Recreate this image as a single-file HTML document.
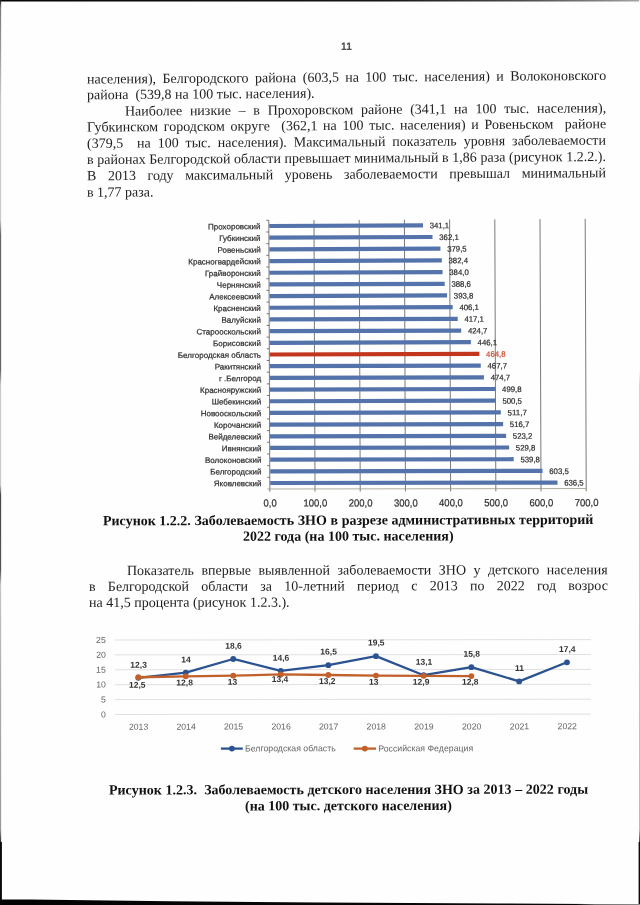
<!DOCTYPE html>
<html lang="ru">
<head>
<meta charset="utf-8">
<title>11</title>
<style>
html,body{margin:0;padding:0;}
body{width:640px;height:905px;position:relative;overflow:hidden;background:#fefefe;font-family:"Liberation Serif", serif;}
.ln{position:absolute;white-space:pre;font-size:14px;line-height:16px;height:16px;color:#1e1e1e;font-family:"Liberation Serif", serif;transform-origin:0 12px;}
.ln.b{font-weight:bold;color:#111;}
.pn{position:absolute;left:340.6px;top:40px;font-family:"Liberation Sans", sans-serif;font-size:10.3px;line-height:12px;letter-spacing:0.4px;color:#2a2a2a;-webkit-text-stroke:0.25px #2a2a2a;transform:translateY(0.8px) rotate(-0.3deg);transform-origin:0 10px;}
svg{position:absolute;left:0;top:0;}
svg text{font-family:"Liberation Sans", sans-serif;}
#chart1 text{stroke:#2e2e2e;stroke-width:0.22px;}
#chart1 text.r{stroke:#cf4a30;}
</style>
</head>
<body>
<div class="pn">11</div>
<div class="ln" style="left:87.00px;top:71px;transform:translateY(0.60px) rotate(-0.410deg);word-spacing:2.889px;">населения), Белгородского района (603,5 на 100 тыс. населения) и Волоконовского</div>
<div class="ln" style="left:87.00px;top:87px;transform:translateY(0.30px) rotate(-0.398deg);">района  (539,8 на 100 тыс. населения).</div>
<div class="ln" style="left:125.00px;top:103px;transform:translateY(0.60px) rotate(-0.385deg);word-spacing:4.212px;">Наиболее низкие – в Прохоровском районе (341,1 на 100 тыс. населения),</div>
<div class="ln" style="left:87.00px;top:119px;transform:translateY(0.60px) rotate(-0.373deg);word-spacing:2.172px;">Губкинском городском округе  (362,1 на 100 тыс. населения) и Ровеньском  районе</div>
<div class="ln" style="left:87.30px;top:135px;transform:translateY(0.90px) rotate(-0.361deg);word-spacing:3.425px;">(379,5  на 100 тыс. населения). Максимальный показатель уровня заболеваемости</div>
<div class="ln" style="left:87.30px;top:152px;transform:translateY(0.10px) rotate(-0.348deg);word-spacing:0.146px;">в районах Белгородской области превышает минимальный в 1,86 раза (рисунок 1.2.2.).</div>
<div class="ln" style="left:87.30px;top:168px;transform:translateY(0.30px) rotate(-0.336deg);word-spacing:8.075px;">В 2013 году максимальный уровень заболеваемости превышал минимальный</div>
<div class="ln" style="left:87.30px;top:184px;transform:translateY(0.75px) rotate(-0.323deg);">в 1,77 раза.</div>
<div class="ln b" style="left:103.30px;top:513px;transform:translateY(0.35px) rotate(-0.160deg);word-spacing:0.082px;">Рисунок 1.2.2. Заболеваемость ЗНО в разрезе административных территорий</div>
<div class="ln b" style="left:242.50px;top:528px;transform:translateY(0.80px) rotate(-0.103deg);">2022 года (на 100 тыс. населения)</div>
<div class="ln" style="left:127.00px;top:563px;transform:translateY(0.00px) rotate(-0.103deg);word-spacing:3.975px;">Показатель впервые выявленной заболеваемости ЗНО у детского населения</div>
<div class="ln" style="left:88.80px;top:578px;transform:translateY(0.95px) rotate(-0.103deg);word-spacing:8.754px;">в Белгородской области за 10-летний период с 2013 по 2022 год возрос</div>
<div class="ln" style="left:89.00px;top:595px;transform:translateY(0.00px) rotate(-0.103deg);">на 41,5 процента (рисунок 1.2.3.).</div>
<div class="ln b" style="left:109.00px;top:782px;transform:translateY(0.50px) rotate(-0.103deg);word-spacing:0.118px;">Рисунок 1.2.3.  Заболеваемость детского населения ЗНО за 2013 – 2022 годы</div>
<div class="ln b" style="left:245.20px;top:798px;transform:translateY(0.40px) rotate(-0.103deg);">(на 100 тыс. детского населения)</div>
<svg width="640" height="905" viewBox="0 0 640 905">
<g id="edges">
<defs><linearGradient id="gl" x1="0" y1="0" x2="0" y2="1"><stop offset="0.0000" stop-color="#1c1c1c"/><stop offset="0.0088" stop-color="#7a7a7a"/><stop offset="0.0552" stop-color="#999"/><stop offset="0.1105" stop-color="#cacaca"/><stop offset="0.2431" stop-color="#cacaca"/><stop offset="0.2597" stop-color="#666"/><stop offset="0.4088" stop-color="#666"/><stop offset="0.4254" stop-color="#cacaca"/><stop offset="0.5359" stop-color="#cacaca"/><stop offset="0.5470" stop-color="#484848"/><stop offset="0.6298" stop-color="#555"/><stop offset="0.6464" stop-color="#c6c6c6"/><stop offset="0.7514" stop-color="#adadad"/><stop offset="0.9171" stop-color="#999"/><stop offset="0.9337" stop-color="#111"/><stop offset="1.0000" stop-color="#000"/></linearGradient><linearGradient id="gr" x1="0" y1="0" x2="0" y2="1"><stop offset="0.0000" stop-color="#ffffff"/><stop offset="0.4088" stop-color="#fdfdfd"/><stop offset="0.4254" stop-color="#c9c9c9"/><stop offset="0.6851" stop-color="#bdbdbd"/><stop offset="0.9171" stop-color="#a8a8a8"/><stop offset="0.9304" stop-color="#111"/><stop offset="1.0000" stop-color="#000"/></linearGradient><linearGradient id="gt" x1="0" y1="0" x2="1" y2="0"><stop offset="0.0000" stop-color="#060606"/><stop offset="0.5938" stop-color="#161616"/><stop offset="0.8125" stop-color="#4a4a4a"/><stop offset="0.9375" stop-color="#808080"/><stop offset="1.0000" stop-color="#a6a6a6"/></linearGradient><linearGradient id="gb" x1="0" y1="0" x2="1" y2="0"><stop offset="0.0000" stop-color="#030303"/><stop offset="0.9000" stop-color="#080808"/><stop offset="0.9300" stop-color="#707070"/><stop offset="1.0000" stop-color="#8a8a8a"/></linearGradient></defs>
<rect x="0" y="0" width="640" height="1.5" fill="url(#gt)"/>
<rect x="0" y="0" width="1.15" height="905" fill="url(#gl)"/>
<rect x="639.2" y="0" width="0.8" height="905" fill="url(#gr)"/>
<rect x="0" y="842" width="1.9" height="63" fill="#0a0a0a"/>
<rect x="638.6" y="842" width="1.4" height="63" fill="#0c0c0c"/>
<polygon points="0,899.5 30,899.6 170,901.2 320,902.5 500,903.4 590,903.9 640,904.0 640,905 0,905" fill="url(#gb)"/>
</g>
<g id="chart1">
<line x1="268.80" y1="220.30" x2="269.83" y2="491.70" stroke="#585858" stroke-width="0.8"/>
<line x1="314.00" y1="220.11" x2="315.03" y2="491.63" stroke="#585858" stroke-width="0.8"/>
<line x1="359.20" y1="219.91" x2="360.23" y2="491.57" stroke="#585858" stroke-width="0.8"/>
<line x1="404.40" y1="219.72" x2="405.43" y2="491.50" stroke="#585858" stroke-width="0.8"/>
<line x1="449.60" y1="219.53" x2="450.63" y2="491.44" stroke="#585858" stroke-width="0.8"/>
<line x1="494.80" y1="219.34" x2="495.83" y2="491.37" stroke="#585858" stroke-width="0.8"/>
<line x1="540.00" y1="219.14" x2="541.03" y2="491.31" stroke="#585858" stroke-width="0.8"/>
<line x1="585.20" y1="218.95" x2="586.23" y2="491.24" stroke="#585858" stroke-width="0.8"/>
<line x1="267.22" y1="489.00" x2="586.22" y2="488.54" stroke="#9a9589" stroke-width="0.8"/>
<line x1="266.20" y1="220.31" x2="268.80" y2="220.30" stroke="#585858" stroke-width="0.8"/>
<line x1="266.24" y1="231.99" x2="268.84" y2="231.98" stroke="#585858" stroke-width="0.8"/>
<line x1="266.29" y1="243.68" x2="268.89" y2="243.67" stroke="#585858" stroke-width="0.8"/>
<line x1="266.33" y1="255.36" x2="268.93" y2="255.35" stroke="#585858" stroke-width="0.8"/>
<line x1="266.38" y1="267.04" x2="268.98" y2="267.03" stroke="#585858" stroke-width="0.8"/>
<line x1="266.42" y1="278.72" x2="269.02" y2="278.71" stroke="#585858" stroke-width="0.8"/>
<line x1="266.47" y1="290.40" x2="269.07" y2="290.40" stroke="#585858" stroke-width="0.8"/>
<line x1="266.51" y1="302.09" x2="269.11" y2="302.08" stroke="#585858" stroke-width="0.8"/>
<line x1="266.56" y1="313.77" x2="269.16" y2="313.76" stroke="#585858" stroke-width="0.8"/>
<line x1="266.60" y1="325.45" x2="269.20" y2="325.44" stroke="#585858" stroke-width="0.8"/>
<line x1="266.64" y1="337.13" x2="269.24" y2="337.13" stroke="#585858" stroke-width="0.8"/>
<line x1="266.69" y1="348.82" x2="269.29" y2="348.81" stroke="#585858" stroke-width="0.8"/>
<line x1="266.73" y1="360.50" x2="269.33" y2="360.49" stroke="#585858" stroke-width="0.8"/>
<line x1="266.78" y1="372.18" x2="269.38" y2="372.17" stroke="#585858" stroke-width="0.8"/>
<line x1="266.82" y1="383.86" x2="269.42" y2="383.86" stroke="#585858" stroke-width="0.8"/>
<line x1="266.87" y1="395.55" x2="269.47" y2="395.54" stroke="#585858" stroke-width="0.8"/>
<line x1="266.91" y1="407.23" x2="269.51" y2="407.22" stroke="#585858" stroke-width="0.8"/>
<line x1="266.95" y1="418.91" x2="269.55" y2="418.90" stroke="#585858" stroke-width="0.8"/>
<line x1="267.00" y1="430.59" x2="269.60" y2="430.59" stroke="#585858" stroke-width="0.8"/>
<line x1="267.04" y1="442.27" x2="269.64" y2="442.27" stroke="#585858" stroke-width="0.8"/>
<line x1="267.09" y1="453.96" x2="269.69" y2="453.95" stroke="#585858" stroke-width="0.8"/>
<line x1="267.13" y1="465.64" x2="269.73" y2="465.63" stroke="#585858" stroke-width="0.8"/>
<line x1="267.18" y1="477.32" x2="269.78" y2="477.32" stroke="#585858" stroke-width="0.8"/>
<polygon points="269.21,223.90 422.99,223.25 423.01,227.46 269.23,228.10" fill="#5573ab"/>
<text x="429.71" y="228.33" transform="rotate(-0.241 429.71 228.33)" fill="#2e2e2e" font-size="8" textLength="19.5" lengthAdjust="spacingAndGlyphs">341,1</text>
<text x="260.53" y="229.23" transform="rotate(-0.241 260.53 229.23)" text-anchor="end" fill="#2e2e2e" font-size="8.02">Прохоровский</text>
<polygon points="269.26,235.58 432.53,234.91 432.54,239.12 269.27,239.78" fill="#5573ab"/>
<text x="439.25" y="239.99" transform="rotate(-0.234 439.25 239.99)" fill="#2e2e2e" font-size="8" textLength="19.5" lengthAdjust="spacingAndGlyphs">362,1</text>
<text x="260.58" y="240.92" transform="rotate(-0.234 260.58 240.92)" text-anchor="end" fill="#2e2e2e" font-size="8.02">Губкинский</text>
<polygon points="269.30,247.26 440.44,246.58 440.45,250.79 269.32,251.46" fill="#5573ab"/>
<text x="447.16" y="251.66" transform="rotate(-0.227 447.16 251.66)" fill="#2e2e2e" font-size="8" textLength="19.5" lengthAdjust="spacingAndGlyphs">379,5</text>
<text x="260.62" y="252.60" transform="rotate(-0.227 260.62 252.60)" text-anchor="end" fill="#2e2e2e" font-size="8.02">Ровеньский</text>
<polygon points="269.35,258.94 441.79,258.28 441.81,262.49 269.36,263.14" fill="#5573ab"/>
<text x="448.51" y="263.36" transform="rotate(-0.219 448.51 263.36)" fill="#2e2e2e" font-size="8" textLength="19.5" lengthAdjust="spacingAndGlyphs">382,4</text>
<text x="260.67" y="264.28" transform="rotate(-0.219 260.67 264.28)" text-anchor="end" fill="#2e2e2e" font-size="8.02">Красногвардейский</text>
<polygon points="269.39,270.63 442.56,269.98 442.58,274.19 269.41,274.83" fill="#5573ab"/>
<text x="449.28" y="275.07" transform="rotate(-0.212 449.28 275.07)" fill="#2e2e2e" font-size="8" textLength="19.5" lengthAdjust="spacingAndGlyphs">384,0</text>
<text x="260.71" y="275.96" transform="rotate(-0.212 260.71 275.96)" text-anchor="end" fill="#2e2e2e" font-size="8.02">Грайворонский</text>
<polygon points="269.44,282.31 444.68,281.68 444.70,285.89 269.45,286.51" fill="#5573ab"/>
<text x="451.40" y="286.76" transform="rotate(-0.205 451.40 286.76)" fill="#2e2e2e" font-size="8" textLength="19.5" lengthAdjust="spacingAndGlyphs">388,6</text>
<text x="260.76" y="287.64" transform="rotate(-0.205 260.76 287.64)" text-anchor="end" fill="#2e2e2e" font-size="8.02">Чернянский</text>
<polygon points="269.48,293.99 447.08,293.37 447.09,297.58 269.50,298.19" fill="#5573ab"/>
<text x="453.80" y="298.46" transform="rotate(-0.198 453.80 298.46)" fill="#2e2e2e" font-size="8" textLength="19.5" lengthAdjust="spacingAndGlyphs">393,8</text>
<text x="260.80" y="299.32" transform="rotate(-0.198 260.80 299.32)" text-anchor="end" fill="#2e2e2e" font-size="8.02">Алексеевский</text>
<polygon points="269.52,305.67 452.68,305.06 452.70,309.27 269.54,309.87" fill="#5573ab"/>
<text x="459.40" y="310.15" transform="rotate(-0.191 459.40 310.15)" fill="#2e2e2e" font-size="8" textLength="19.5" lengthAdjust="spacingAndGlyphs">406,1</text>
<text x="260.84" y="311.00" transform="rotate(-0.191 260.84 311.00)" text-anchor="end" fill="#2e2e2e" font-size="8.02">Красненский</text>
<polygon points="269.57,317.35 457.70,316.75 457.71,320.96 269.58,321.55" fill="#5573ab"/>
<text x="464.42" y="321.84" transform="rotate(-0.184 464.42 321.84)" fill="#2e2e2e" font-size="8" textLength="19.5" lengthAdjust="spacingAndGlyphs">417,1</text>
<text x="260.89" y="322.68" transform="rotate(-0.184 260.89 322.68)" text-anchor="end" fill="#2e2e2e" font-size="8.02">Валуйский</text>
<polygon points="269.61,329.04 461.18,328.44 461.19,332.65 269.63,333.24" fill="#5573ab"/>
<text x="467.90" y="333.53" transform="rotate(-0.177 467.90 333.53)" fill="#2e2e2e" font-size="8" textLength="19.5" lengthAdjust="spacingAndGlyphs">424,7</text>
<text x="260.93" y="334.36" transform="rotate(-0.177 260.93 334.36)" text-anchor="end" fill="#2e2e2e" font-size="8.02">Старооскольский</text>
<polygon points="269.66,340.72 470.89,340.12 470.91,344.33 269.67,344.92" fill="#5573ab"/>
<text x="477.61" y="345.21" transform="rotate(-0.169 477.61 345.21)" fill="#2e2e2e" font-size="8" textLength="19.5" lengthAdjust="spacingAndGlyphs">446,1</text>
<text x="260.98" y="346.04" transform="rotate(-0.169 260.98 346.04)" text-anchor="end" fill="#2e2e2e" font-size="8.02">Борисовский</text>
<polygon points="269.70,352.40 479.39,351.80 479.41,356.01 269.72,356.60" fill="#c3361e"/>
<text x="486.11" y="356.89" transform="rotate(-0.162 486.11 356.89)" fill="#cf4a30" class="r" font-size="8" textLength="19.5" lengthAdjust="spacingAndGlyphs">464,8</text>
<text x="261.02" y="357.73" transform="rotate(-0.162 261.02 357.73)" text-anchor="end" fill="#2e2e2e" font-size="8.02">Белгородская область</text>
<polygon points="269.75,364.08 480.75,363.51 480.76,367.72 269.76,368.28" fill="#5573ab"/>
<text x="487.47" y="368.60" transform="rotate(-0.155 487.47 368.60)" fill="#2e2e2e" font-size="8" textLength="19.5" lengthAdjust="spacingAndGlyphs">467,7</text>
<text x="261.07" y="369.41" transform="rotate(-0.155 261.07 369.41)" text-anchor="end" fill="#2e2e2e" font-size="8.02">Ракитянский</text>
<polygon points="269.79,375.76 483.96,375.21 483.97,379.42 269.81,379.96" fill="#5573ab"/>
<text x="490.67" y="380.30" transform="rotate(-0.148 490.67 380.30)" fill="#2e2e2e" font-size="8" textLength="19.5" lengthAdjust="spacingAndGlyphs">474,7</text>
<text x="261.11" y="381.09" transform="rotate(-0.148 261.11 381.09)" text-anchor="end" fill="#2e2e2e" font-size="8.02">г .Белгород</text>
<polygon points="269.84,387.45 495.34,386.89 495.36,391.10 269.85,391.65" fill="#5573ab"/>
<text x="502.06" y="391.98" transform="rotate(-0.141 502.06 391.98)" fill="#2e2e2e" font-size="8" textLength="19.5" lengthAdjust="spacingAndGlyphs">499,8</text>
<text x="261.16" y="392.77" transform="rotate(-0.141 261.16 392.77)" text-anchor="end" fill="#2e2e2e" font-size="8.02">Краснояружский</text>
<polygon points="269.88,399.13 495.71,398.60 495.72,402.81 269.90,403.33" fill="#5573ab"/>
<text x="502.42" y="403.69" transform="rotate(-0.134 502.42 403.69)" fill="#2e2e2e" font-size="8" textLength="19.5" lengthAdjust="spacingAndGlyphs">500,5</text>
<text x="261.20" y="404.45" transform="rotate(-0.134 261.20 404.45)" text-anchor="end" fill="#2e2e2e" font-size="8.02">Шебекинский</text>
<polygon points="269.92,410.81 500.81,410.30 500.83,414.51 269.94,415.01" fill="#5573ab"/>
<text x="507.53" y="415.39" transform="rotate(-0.127 507.53 415.39)" fill="#2e2e2e" font-size="8" textLength="19.5" lengthAdjust="spacingAndGlyphs">511,7</text>
<text x="261.24" y="416.13" transform="rotate(-0.127 261.24 416.13)" text-anchor="end" fill="#2e2e2e" font-size="8.02">Новооскольский</text>
<polygon points="269.97,422.49 503.12,422.00 503.13,426.21 269.98,426.69" fill="#5573ab"/>
<text x="509.84" y="427.10" transform="rotate(-0.119 509.84 427.10)" fill="#2e2e2e" font-size="8" textLength="19.5" lengthAdjust="spacingAndGlyphs">516,7</text>
<text x="261.29" y="427.81" transform="rotate(-0.119 261.29 427.81)" text-anchor="end" fill="#2e2e2e" font-size="8.02">Корочанский</text>
<polygon points="270.01,434.18 506.10,433.71 506.12,437.92 270.03,438.38" fill="#5573ab"/>
<text x="512.82" y="438.81" transform="rotate(-0.112 512.82 438.81)" fill="#2e2e2e" font-size="8" textLength="19.5" lengthAdjust="spacingAndGlyphs">523,2</text>
<text x="261.33" y="439.49" transform="rotate(-0.112 261.33 439.49)" text-anchor="end" fill="#2e2e2e" font-size="8.02">Вейделевский</text>
<polygon points="270.06,445.86 509.13,445.41 509.14,449.62 270.07,450.06" fill="#5573ab"/>
<text x="515.85" y="450.51" transform="rotate(-0.105 515.85 450.51)" fill="#2e2e2e" font-size="8" textLength="19.5" lengthAdjust="spacingAndGlyphs">529,8</text>
<text x="261.38" y="451.17" transform="rotate(-0.105 261.38 451.17)" text-anchor="end" fill="#2e2e2e" font-size="8.02">Ивнянский</text>
<polygon points="270.10,457.54 513.69,457.12 513.71,461.33 270.12,461.74" fill="#5573ab"/>
<text x="520.41" y="462.22" transform="rotate(-0.098 520.41 462.22)" fill="#2e2e2e" font-size="8" textLength="19.5" lengthAdjust="spacingAndGlyphs">539,8</text>
<text x="261.42" y="462.85" transform="rotate(-0.098 261.42 462.85)" text-anchor="end" fill="#2e2e2e" font-size="8.02">Волоконовский</text>
<polygon points="270.15,469.22 542.53,468.78 542.54,473.03 270.16,473.42" fill="#5573ab"/>
<text x="549.25" y="473.92" transform="rotate(-0.083 549.25 473.92)" fill="#2e2e2e" font-size="8" textLength="19.5" lengthAdjust="spacingAndGlyphs">603,5</text>
<text x="261.47" y="474.53" transform="rotate(-0.083 261.47 474.53)" text-anchor="end" fill="#2e2e2e" font-size="8.02">Белгородский</text>
<polygon points="270.19,480.90 557.49,480.49 557.50,484.69 270.21,485.10" fill="#5573ab"/>
<text x="564.21" y="485.58" transform="rotate(-0.083 564.21 485.58)" fill="#2e2e2e" font-size="8" textLength="19.5" lengthAdjust="spacingAndGlyphs">636,5</text>
<text x="261.51" y="486.22" transform="rotate(-0.083 261.51 486.22)" text-anchor="end" fill="#2e2e2e" font-size="8.02">Яковлевский</text>
<text x="270.19" y="506.60" transform="rotate(-0.100 270.19 506.60)" text-anchor="middle" fill="#2e2e2e" font-size="10.3" textLength="13.2" lengthAdjust="spacingAndGlyphs">0,0</text>
<text x="315.39" y="506.53" transform="rotate(-0.100 315.39 506.53)" text-anchor="middle" fill="#2e2e2e" font-size="10.3" textLength="23.8" lengthAdjust="spacingAndGlyphs">100,0</text>
<text x="360.59" y="506.47" transform="rotate(-0.100 360.59 506.47)" text-anchor="middle" fill="#2e2e2e" font-size="10.3" textLength="23.8" lengthAdjust="spacingAndGlyphs">200,0</text>
<text x="405.79" y="506.40" transform="rotate(-0.100 405.79 506.40)" text-anchor="middle" fill="#2e2e2e" font-size="10.3" textLength="23.8" lengthAdjust="spacingAndGlyphs">300,0</text>
<text x="450.99" y="506.34" transform="rotate(-0.100 450.99 506.34)" text-anchor="middle" fill="#2e2e2e" font-size="10.3" textLength="23.8" lengthAdjust="spacingAndGlyphs">400,0</text>
<text x="496.19" y="506.27" transform="rotate(-0.100 496.19 506.27)" text-anchor="middle" fill="#2e2e2e" font-size="10.3" textLength="23.8" lengthAdjust="spacingAndGlyphs">500,0</text>
<text x="541.39" y="506.21" transform="rotate(-0.100 541.39 506.21)" text-anchor="middle" fill="#2e2e2e" font-size="10.3" textLength="23.8" lengthAdjust="spacingAndGlyphs">600,0</text>
<text x="586.59" y="506.14" transform="rotate(-0.100 586.59 506.14)" text-anchor="middle" fill="#2e2e2e" font-size="10.3" textLength="23.8" lengthAdjust="spacingAndGlyphs">700,0</text>
</g>
<g id="chart2">
<line x1="115.00" y1="714.50" x2="590.80" y2="714.12" stroke="#d4d4d4" stroke-width="0.7"/>
<text x="105.80" y="717.40" transform="rotate(-0.060 105.80 717.40)" text-anchor="end" fill="#666666" font-size="8.7">0</text>
<line x1="115.00" y1="699.60" x2="590.80" y2="699.22" stroke="#d4d4d4" stroke-width="0.7"/>
<text x="105.80" y="702.50" transform="rotate(-0.060 105.80 702.50)" text-anchor="end" fill="#666666" font-size="8.7">5</text>
<line x1="115.00" y1="684.70" x2="590.80" y2="684.32" stroke="#d4d4d4" stroke-width="0.7"/>
<text x="105.80" y="687.60" transform="rotate(-0.060 105.80 687.60)" text-anchor="end" fill="#666666" font-size="8.7">10</text>
<line x1="115.00" y1="669.80" x2="590.80" y2="669.42" stroke="#d4d4d4" stroke-width="0.7"/>
<text x="105.80" y="672.70" transform="rotate(-0.060 105.80 672.70)" text-anchor="end" fill="#666666" font-size="8.7">15</text>
<line x1="115.00" y1="654.90" x2="590.80" y2="654.52" stroke="#d4d4d4" stroke-width="0.7"/>
<text x="105.80" y="657.80" transform="rotate(-0.060 105.80 657.80)" text-anchor="end" fill="#666666" font-size="8.7">20</text>
<line x1="115.00" y1="640.00" x2="590.80" y2="639.62" stroke="#d4d4d4" stroke-width="0.7"/>
<text x="105.80" y="642.90" transform="rotate(-0.060 105.80 642.90)" text-anchor="end" fill="#666666" font-size="8.7">25</text>
<text x="138.60" y="729.68" transform="rotate(-0.060 138.60 729.68)" text-anchor="middle" fill="#666666" font-size="8.7">2013</text>
<text x="186.06" y="729.64" transform="rotate(-0.060 186.06 729.64)" text-anchor="middle" fill="#666666" font-size="8.7">2014</text>
<text x="233.54" y="729.61" transform="rotate(-0.060 233.54 729.61)" text-anchor="middle" fill="#666666" font-size="8.7">2015</text>
<text x="281.06" y="729.57" transform="rotate(-0.060 281.06 729.57)" text-anchor="middle" fill="#666666" font-size="8.7">2016</text>
<text x="328.63" y="729.53" transform="rotate(-0.060 328.63 729.53)" text-anchor="middle" fill="#666666" font-size="8.7">2017</text>
<text x="376.26" y="729.49" transform="rotate(-0.060 376.26 729.49)" text-anchor="middle" fill="#666666" font-size="8.7">2018</text>
<text x="423.95" y="729.45" transform="rotate(-0.060 423.95 729.45)" text-anchor="middle" fill="#666666" font-size="8.7">2019</text>
<text x="471.69" y="729.41" transform="rotate(-0.060 471.69 729.41)" text-anchor="middle" fill="#666666" font-size="8.7">2020</text>
<text x="519.47" y="729.38" transform="rotate(-0.060 519.47 729.38)" text-anchor="middle" fill="#666666" font-size="8.7">2021</text>
<text x="567.27" y="729.34" transform="rotate(-0.060 567.27 729.34)" text-anchor="middle" fill="#666666" font-size="8.7">2022</text>
<polyline points="138.30,677.83 185.76,672.72 233.24,658.98 280.76,670.86 328.33,665.16 375.96,656.18 423.65,675.22 471.39,667.13 519.17,681.40 566.97,662.29" fill="none" stroke="#2b5291" stroke-width="2.3" stroke-linejoin="round"/>
<circle cx="138.30" cy="677.83" r="2.9" fill="#2b5291"/>
<circle cx="185.76" cy="672.72" r="2.9" fill="#2b5291"/>
<circle cx="233.24" cy="658.98" r="2.9" fill="#2b5291"/>
<circle cx="280.76" cy="670.86" r="2.9" fill="#2b5291"/>
<circle cx="328.33" cy="665.16" r="2.9" fill="#2b5291"/>
<circle cx="375.96" cy="656.18" r="2.9" fill="#2b5291"/>
<circle cx="423.65" cy="675.22" r="2.9" fill="#2b5291"/>
<circle cx="471.39" cy="667.13" r="2.9" fill="#2b5291"/>
<circle cx="519.17" cy="681.40" r="2.9" fill="#2b5291"/>
<circle cx="566.97" cy="662.29" r="2.9" fill="#2b5291"/>
<polyline points="138.30,677.23 185.76,676.30 233.24,675.67 280.76,674.44 328.33,674.99 375.96,675.55 423.65,675.81 471.39,676.07" fill="none" stroke="#c2602b" stroke-width="2.3" stroke-linejoin="round"/>
<circle cx="138.30" cy="677.23" r="2.9" fill="#c2602b"/>
<circle cx="185.76" cy="676.30" r="2.9" fill="#c2602b"/>
<circle cx="233.24" cy="675.67" r="2.9" fill="#c2602b"/>
<circle cx="280.76" cy="674.44" r="2.9" fill="#c2602b"/>
<circle cx="328.33" cy="674.99" r="2.9" fill="#c2602b"/>
<circle cx="375.96" cy="675.55" r="2.9" fill="#c2602b"/>
<circle cx="423.65" cy="675.81" r="2.9" fill="#c2602b"/>
<circle cx="471.39" cy="676.07" r="2.9" fill="#c2602b"/>
<text x="138.60" y="667.80" transform="rotate(-0.060 138.60 667.80)" text-anchor="middle" fill="#333" font-size="8.5" font-weight="bold">12,3</text>
<text x="186.06" y="662.40" transform="rotate(-0.060 186.06 662.40)" text-anchor="middle" fill="#333" font-size="8.5" font-weight="bold">14</text>
<text x="233.54" y="648.70" transform="rotate(-0.060 233.54 648.70)" text-anchor="middle" fill="#333" font-size="8.5" font-weight="bold">18,6</text>
<text x="281.06" y="660.80" transform="rotate(-0.060 281.06 660.80)" text-anchor="middle" fill="#333" font-size="8.5" font-weight="bold">14,6</text>
<text x="328.63" y="654.50" transform="rotate(-0.060 328.63 654.50)" text-anchor="middle" fill="#333" font-size="8.5" font-weight="bold">16,5</text>
<text x="376.26" y="645.60" transform="rotate(-0.060 376.26 645.60)" text-anchor="middle" fill="#333" font-size="8.5" font-weight="bold">19,5</text>
<text x="423.95" y="664.70" transform="rotate(-0.060 423.95 664.70)" text-anchor="middle" fill="#333" font-size="8.5" font-weight="bold">13,1</text>
<text x="471.69" y="656.65" transform="rotate(-0.060 471.69 656.65)" text-anchor="middle" fill="#333" font-size="8.5" font-weight="bold">15,8</text>
<text x="519.47" y="670.90" transform="rotate(-0.060 519.47 670.90)" text-anchor="middle" fill="#333" font-size="8.5" font-weight="bold">11</text>
<text x="567.27" y="651.90" transform="rotate(-0.060 567.27 651.90)" text-anchor="middle" fill="#333" font-size="8.5" font-weight="bold">17,4</text>
<text x="137.30" y="687.70" transform="rotate(-0.060 137.30 687.70)" text-anchor="middle" fill="#333" font-size="8.5" font-weight="bold">12,5</text>
<text x="184.60" y="685.50" transform="rotate(-0.060 184.60 685.50)" text-anchor="middle" fill="#333" font-size="8.5" font-weight="bold">12,8</text>
<text x="232.50" y="684.80" transform="rotate(-0.060 232.50 684.80)" text-anchor="middle" fill="#333" font-size="8.5" font-weight="bold">13</text>
<text x="280.00" y="681.90" transform="rotate(-0.060 280.00 681.90)" text-anchor="middle" fill="#333" font-size="8.5" font-weight="bold">13,4</text>
<text x="327.20" y="684.10" transform="rotate(-0.060 327.20 684.10)" text-anchor="middle" fill="#333" font-size="8.5" font-weight="bold">13,2</text>
<text x="373.80" y="684.70" transform="rotate(-0.060 373.80 684.70)" text-anchor="middle" fill="#333" font-size="8.5" font-weight="bold">13</text>
<text x="421.10" y="684.70" transform="rotate(-0.060 421.10 684.70)" text-anchor="middle" fill="#333" font-size="8.5" font-weight="bold">12,9</text>
<text x="470.20" y="684.70" transform="rotate(-0.060 470.20 684.70)" text-anchor="middle" fill="#333" font-size="8.5" font-weight="bold">12,8</text>
<line x1="220.9" y1="748.6" x2="242.8" y2="748.6" stroke="#2b5291" stroke-width="2.3"/><circle cx="231.9" cy="748.6" r="2.9" fill="#2b5291"/>
<text x="245.00" y="751.40" transform="rotate(-0.060 245.00 751.40)" fill="#666666" font-size="8.75">Белгородская область</text>
<line x1="353.7" y1="748.6" x2="376" y2="748.6" stroke="#c2602b" stroke-width="2.3"/><circle cx="364.8" cy="748.6" r="2.9" fill="#c2602b"/>
<text x="378.20" y="751.40" transform="rotate(-0.060 378.20 751.40)" fill="#666666" font-size="8.75">Российская Федерация</text>
</g>
</svg>
</body>
</html>
